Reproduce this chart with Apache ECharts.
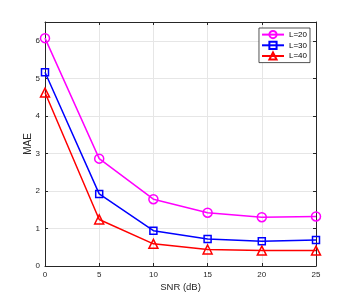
<!DOCTYPE html>
<html><head><meta charset="utf-8">
<script src="https://cdn.jsdelivr.net/npm/echarts@6/dist/echarts.min.js"></script>
<style>html,body{margin:0;padding:0;background:#fff}#c{width:349px;height:299px}</style>
</head><body><div id="c"></div>
<script>
const snr = [0, 5, 10, 15, 20, 25];
const L20 = [6.07, 2.86, 1.78, 1.42, 1.30, 1.32];
const L30 = [5.16, 1.92, 0.94, 0.72, 0.66, 0.69];
const L40 = [4.62, 1.24, 0.59, 0.44, 0.41, 0.41];
const names = ['L=20', 'L=30', 'L=40'];

const chart = echarts.init(document.getElementById('c'), null, {renderer: 'canvas'});
const axisCol = '#262626';
const font = 'Liberation Sans, Arial, sans-serif';
function mk(name, data, color, symbol, size) {
  return {
    name, type: 'line', data: snr.map((x, i) => [x, data[i]]),
    symbol, symbolSize: size, showAllSymbol: true,
    lineStyle: {color, width: 1.5},
    itemStyle: {color: 'rgba(255,255,255,0)', borderColor: color, borderWidth: 1.5},
    emphasis: {disabled: true}, animation: false
  };
}
const baseX = {
  type: 'value', min: 0, max: 25, interval: 5,
  axisLine: {show: true, onZero: false, lineStyle: {color: axisCol, width: 1}},
  axisTick: {show: true, inside: true, length: 3, lineStyle: {color: axisCol}},
};
const baseY = {
  type: 'value', min: 0, max: 6.5, interval: 1,
  axisLine: {show: true, onZero: false, lineStyle: {color: axisCol, width: 1}},
  axisTick: {show: true, inside: true, length: 3, lineStyle: {color: axisCol}},
};
chart.setOption({
  animation: false,
  grid: {left: 45, right: 33, top: 22, bottom: 33, containLabel: false},
  legend: {
    orient: 'vertical', right: 39, top: 28,
    data: names, itemWidth: 22, itemHeight: 9, itemGap: 1.5,
    padding: [2, 3, 2, 2], borderColor: axisCol, borderWidth: 0.8, backgroundColor: '#fff',
    textStyle: {fontSize: 8, color: '#000', fontFamily: font}
  },
  xAxis: [
    Object.assign({}, baseX, {
      name: 'SNR (dB)', nameLocation: 'middle', nameGap: 16, nameMoveOverlap: false,
      nameTextStyle: {fontSize: 9.5, color: '#262626', fontFamily: font},
      axisLabel: {fontSize: 8, color: '#262626', fontFamily: font, margin: 5},
      splitLine: {show: true, lineStyle: {color: '#e6e6e6', width: 1}}
    }),
    Object.assign({}, baseX, {position: 'top', axisLabel: {show: false}, splitLine: {show: false}})
  ],
  yAxis: [
    Object.assign({}, baseY, {
      name: 'MAE', nameLocation: 'middle', nameGap: 12, nameRotate: 90, nameMoveOverlap: false,
      nameTextStyle: {fontSize: 10, color: '#262626', fontFamily: font},
      axisLabel: {fontSize: 8, color: '#262626', fontFamily: font, margin: 5, showMaxLabel: false},
      splitLine: {show: true, lineStyle: {color: '#e6e6e6', width: 1}}
    }),
    Object.assign({}, baseY, {position: 'right', axisLabel: {show: false}, splitLine: {show: false}})
  ],
  series: [
    mk(names[0], L20, '#ff00ff', 'circle', 9),
    mk(names[1], L30, '#0000ff', 'rect', 7),
    mk(names[2], L40, '#ff0000', 'triangle', 9)
  ]
});
</script></body></html>
